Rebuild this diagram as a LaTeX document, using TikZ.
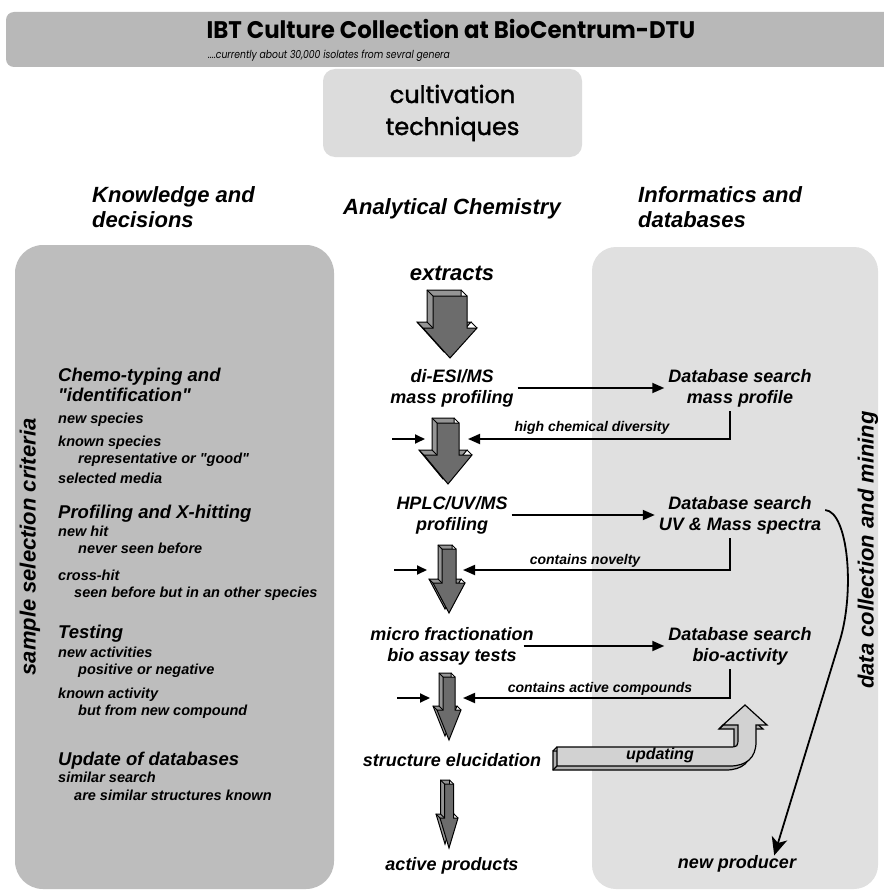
\documentclass[tikz,border=0pt]{standalone}
\usepackage{fontspec}
\setmainfont{Liberation Sans}[Ligatures=TeXOff]
\newfontfamily\popfont{Poppins}
\newfontfamily\popheavy[FakeBold=1.5]{Poppins}
\usetikzlibrary{arrows.meta,calc}
\definecolor{banner}{HTML}{B8B8B8}
\definecolor{cultbox}{HTML}{DCDCDC}
\definecolor{leftpanel}{HTML}{BDBDBD}
\definecolor{rightpanel}{HTML}{E0E0E0}
\definecolor{arrfront}{HTML}{6C6C6C}
\definecolor{arrside}{HTML}{959595}
\definecolor{updfront}{HTML}{D2D2D2}
\definecolor{updside}{HTML}{B0B0B0}
\newcommand\qq{\char"22\relax}
\newcommand\mybarrow[7]{%
 \begin{scope}[line width=1pt, line join=miter]
 \filldraw[fill=arrside, draw=black, shift={(-#7,-#7)}] ({#1-#5},#2) -- ({#1+#5},#2) -- ({#1+#5},#3) -- ({#1+#6},#3) -- (#1,#4) -- ({#1-#6},#3) -- ({#1-#5},#3) -- cycle;
 \draw ({#1-#5},#2) -- ++(-#7,-#7) ({#1+#5},#2) -- ++(-#7,-#7) ({#1-#6},#3) -- ++(-#7,-#7) ({#1+#6},#3) -- ++(-#7,-#7) ({#1-#5},#3) -- ++(-#7,-#7);
 \filldraw[fill=arrfront, draw=black] ({#1-#5},#2) -- ({#1+#5},#2) -- ({#1+#5},#3) -- ({#1+#6},#3) -- (#1,#4) -- ({#1-#6},#3) -- ({#1-#5},#3) -- cycle;
 \end{scope}}
\tikzset{
 itemtxt/.style={anchor=west, inner sep=0pt, font=\fontsize{14.5}{17}\selectfont\bfseries\itshape, text height=10.5pt, text depth=3pt},
 headtxt/.style={anchor=west, inner sep=0pt, font=\fontsize{18.5}{21}\selectfont\bfseries\itshape, text height=13.5pt, text depth=4pt},
 coltxt/.style={inner sep=0pt, font=\fontsize{22}{25}\selectfont\bfseries\itshape, align=left},
 midtxt/.style={inner sep=4pt, font=\fontsize{18}{21}\selectfont\bfseries\itshape, align=center},
 lbltxt/.style={inner sep=0pt, font=\fontsize{14}{16}\selectfont\bfseries\itshape, text height=10pt, text depth=3pt},
 vtxt/.style={inner sep=0pt, rotate=90, font=\fontsize{22}{25}\selectfont\bfseries\itshape},
 conn/.style={line width=1.8pt, -{Triangle[length=12pt,width=10pt]}},
 smallconn/.style={line width=1.8pt, -{Triangle[length=10pt,width=9pt]}},
}
\begin{document}
\begin{tikzpicture}[x=1pt,y=-1pt]
\useasboundingbox (0,0) rectangle (883,891);
\fill[white] (0,0) rectangle (883,891);
% banner
\fill[banner, rounded corners=8pt] (6,12) rectangle (900,67);
\node[inner sep=0pt, font=\popfont\bfseries\fontsize{24}{28}\selectfont] (title) at (451,29) {\scalebox{0.953}[1]{IBT Culture Collection at BioCentrum-DTU}};
\node[anchor=west, inner sep=0pt, font=\popfont\itshape\fontsize{11}{13}\selectfont] (sub) at (208,56) {\scalebox{0.84}[1]{....currently about 30,000 isolates from sevral genera}};
% cultivation
\node[fill=cultbox, rounded corners=12pt, minimum width=259pt, minimum height=88pt, align=center, inner sep=0pt, font=\popheavy\fontsize{24}{32}\selectfont] (cult) at (452.5,113) {cultivation\\techniques};
% column headers
\node[coltxt, anchor=west] (know) at (92,207) {Knowledge and\\decisions};
\node[coltxt] (anal) at (452,209) {Analytical Chemistry};
\node[coltxt, anchor=west] (info) at (638,207) {Informatics and\\databases};
% panels
\fill[leftpanel, rounded corners=28pt] (15,245) rectangle (334,889);
\fill[rightpanel, rounded corners=24pt] (592,247) rectangle (878,889);
% vertical labels
\node[vtxt] (ssc) at (30,547) {sample selection criteria};
\node[vtxt] (dcm) at (868,550) {data collection and mining};
% left panel text
\node[headtxt] (h1a) at (58,377) {Chemo-typing and};
\node[headtxt] (h1b) at (58,397) {\qq identification\qq};
\node[itemtxt] (i1) at (58,420) {new species};
\node[itemtxt] (i2) at (58,443) {known species};
\node[itemtxt] (i3) at (78,460) {representative or \qq good\qq};
\node[itemtxt] (i4) at (58,480) {selected media};
\node[headtxt] (h2) at (58,514) {Profiling and X-hitting};
\node[itemtxt] (i5) at (58,533) {new hit};
\node[itemtxt] (i6) at (78,550) {never seen before};
\node[itemtxt] (i7) at (58,577) {cross-hit};
\node[itemtxt] (i8) at (74,594) {seen before but in an other species};
\node[headtxt] (h3) at (58,634) {Testing};
\node[itemtxt] (i9) at (58,654) {new activities};
\node[itemtxt] (i10) at (78,671) {positive or negative};
\node[itemtxt] (i11) at (58,695) {known activity};
\node[itemtxt] (i12) at (78,712) {but from new compound};
\node[headtxt] (h4) at (58,761) {Update of databases};
\node[itemtxt] (i13) at (58,779) {similar search};
\node[itemtxt] (i14) at (74,797) {are similar structures known};
% center column
\node[midtxt, font=\fontsize{22}{25}\selectfont\bfseries\itshape] (ext) at (452,273) {extracts};
\node[midtxt] (ms) at (452,388) {di-ESI/MS\\mass profiling};
\node[midtxt] (hplc) at (452,515) {HPLC/UV/MS\\profiling};
\node[midtxt] (micro) at (452,646) {micro fractionation\\bio assay tests};
\node[midtxt] (struct) at (452,760) {structure elucidation};
\node[midtxt] (act) at (452,866) {active products};
% right column
\node[midtxt] (db1) at (740,388) {Database search\\mass profile};
\node[midtxt] (db2) at (740,515) {Database search\\UV \& Mass spectra};
\node[midtxt] (db3) at (740,646) {Database search\\bio-activity};
\node[midtxt, inner sep=0pt] (np) at (737,864) {new producer};
% block arrows
\mybarrow{450}{296}{328}{358}{17}{27}{6}
\mybarrow{448}{423}{455}{484}{11}{24}{5}
\mybarrow{449}{549}{583}{613}{7}{16}{4}
\mybarrow{449}{677}{710}{740}{6}{12}{4}
\mybarrow{449}{784}{818}{848}{4.5}{9}{4}
% forward arrows
\draw[conn] (ms.east) -- (db1.west);
\draw[conn] (hplc.east) -- (db2.west);
\draw[conn] ([xshift=-14pt]micro.east) -- (db3.west);
% return arrows
\coordinate (r1) at (468,439);
\coordinate (r2) at (463,570);
\coordinate (r3) at (463,698);
\draw[conn] ([xshift=-10pt]db1.south) |- (r1);
\draw[conn] ([xshift=-10pt]db2.south) |- (r2);
\draw[conn] ([xshift=-10pt]db3.south) |- (r3);
\node[lbltxt] (lab1) at (592,428) {high chemical diversity};
\node[lbltxt] (lab2) at (585,561) {contains novelty};
\node[lbltxt] (lab3) at (600,689) {contains active compounds};
% small left arrows
\coordinate (s1a) at (392,439); \coordinate (s1b) at (425,439);
\coordinate (s2a) at (394,570); \coordinate (s2b) at (427,570);
\coordinate (s3a) at (397,698); \coordinate (s3b) at (430,698);
\draw[smallconn] (s1a) -- (s1b);
\draw[smallconn] (s2a) -- (s2b);
\draw[smallconn] (s3a) -- (s3b);
% updating arrow
\begin{scope}[line width=1.2pt, line join=miter]
\filldraw[fill=updside, shift={(-4,4)}] (557,747) -- (728,747) .. controls (738,747) .. (738,737) -- (738,725) -- (723,725) -- (745,705) -- (767,725) -- (756,725) -- (756,742) .. controls (756,758) and (746,766) .. (730,766) -- (557,766) -- cycle;
\draw (557,747) -- (553,751) (557,766) -- (553,770) (723,725) -- (719,729);
\filldraw[fill=updfront] (557,747) -- (728,747) .. controls (738,747) .. (738,737) -- (738,725) -- (723,725) -- (745,705) -- (767,725) -- (756,725) -- (756,742) .. controls (756,758) and (746,766) .. (730,766) -- (557,766) -- cycle;
\end{scope}
\node[lbltxt, font=\fontsize{16}{18}\selectfont\bfseries\itshape] (upd) at (660,756) {updating};
% curved arrow to new producer
\draw[line width=1.8pt, -{Stealth[length=18pt,width=16pt,inset=5pt]}] ([yshift=5pt]db2.east) .. controls (848,512) and (855,590) .. (840,640) -- ([xshift=-22pt]np.north east);
\end{tikzpicture}
\end{document}
